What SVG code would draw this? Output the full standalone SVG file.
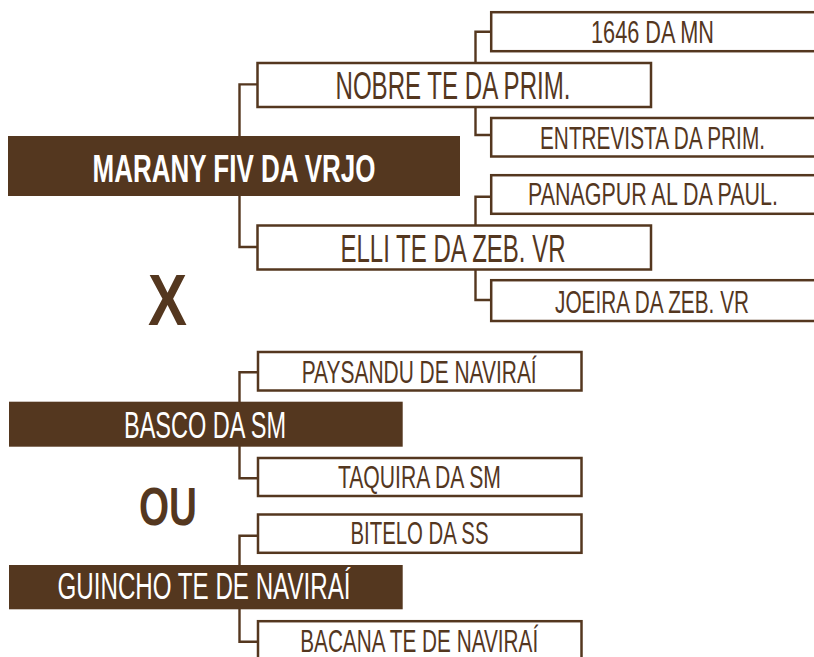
<svg xmlns="http://www.w3.org/2000/svg" width="814" height="657" viewBox="0 0 814 657">
<style>
.box{fill:#ffffff;stroke:#54371f;stroke-width:2.5}
.fill{fill:#54371f}
.conn{fill:none;stroke:#54371f;stroke-width:2.4}
text{font-family:"Liberation Sans Narrow","Liberation Sans",Arial,sans-serif;text-anchor:middle}
.t{fill:#54371f}
.w{fill:#ffffff}
.b{font-weight:bold}
</style>
<rect width="814" height="657" fill="#ffffff"/>
<g id="connectors">
<path class="conn" d="M257,84.4 H239.5 V136 M239.5,196 V247 H257"/>
<path class="conn" d="M491,31.7 H475.5 V63 M475.5,107 V135 H491"/>
<path class="conn" d="M491,196.7 H475.5 V225 M475.5,270 V300 H491"/>
<path class="conn" d="M257,372.3 H239.5 V402 M239.5,446 V478.3 H257"/>
<path class="conn" d="M257,535.7 H239.5 V565 M239.5,609 V641.7 H257"/>
</g>
<g id="n-marany">
<rect class="fill" x="8" y="136" width="452" height="60"/>
<text class="w b" x="234" y="181.7" font-size="39" textLength="283" lengthAdjust="spacingAndGlyphs">MARANY FIV DA VRJO</text>
</g>
<g id="n-nobre">
<rect class="box" x="257.5" y="63" width="393.5" height="44"/>
<text class="t" x="453" y="99" font-size="38" textLength="235" lengthAdjust="spacingAndGlyphs">NOBRE TE DA PRIM.</text>
</g>
<g id="n-elli">
<rect class="box" x="257.5" y="225.5" width="393.5" height="44"/>
<text class="t" x="453" y="261.7" font-size="38" textLength="225" lengthAdjust="spacingAndGlyphs">ELLI TE DA ZEB. VR</text>
</g>
<g id="n-1646">
<rect class="box" x="491.2" y="12.2" width="330" height="39"/>
<text class="t" x="652.5" y="43.3" font-size="31.5" textLength="123" lengthAdjust="spacingAndGlyphs">1646 DA MN</text>
</g>
<g id="n-entrevista">
<rect class="box" x="491.2" y="118" width="330" height="38.5"/>
<text class="t" x="652.5" y="149" font-size="31.5" textLength="225" lengthAdjust="spacingAndGlyphs">ENTREVISTA DA PRIM.</text>
</g>
<g id="n-panagpur">
<rect class="box" x="491.2" y="175.2" width="330" height="38.6"/>
<text class="t" x="653" y="205" font-size="31.5" textLength="250" lengthAdjust="spacingAndGlyphs">PANAGPUR AL DA PAUL.</text>
</g>
<g id="n-joeira">
<rect class="box" x="491.2" y="280.2" width="330" height="40.8"/>
<text class="t" x="652" y="313" font-size="31.5" textLength="194" lengthAdjust="spacingAndGlyphs">JOEIRA DA ZEB. VR</text>
</g>
<g id="n-x">
<text class="t b" x="167.5" y="325" font-size="72.6" textLength="39" lengthAdjust="spacingAndGlyphs">X</text>
</g>
<g id="n-paysandu">
<rect class="box" x="258" y="352" width="323.5" height="38.5"/>
<text class="t" x="419.2" y="383.3" font-size="31.5" textLength="235" lengthAdjust="spacingAndGlyphs">PAYSANDU DE NAVIRAÍ</text>
</g>
<g id="n-basco">
<rect class="fill" x="9" y="401.7" width="393.7" height="45"/>
<text class="w" x="205" y="438.3" font-size="36" textLength="162" lengthAdjust="spacingAndGlyphs">BASCO DA SM</text>
</g>
<g id="n-taquira">
<rect class="box" x="258" y="458" width="323.5" height="38"/>
<text class="t" x="419.4" y="488.3" font-size="31.5" textLength="163" lengthAdjust="spacingAndGlyphs">TAQUIRA DA SM</text>
</g>
<g id="n-ou">
<text class="t b" x="168" y="525" font-size="53" textLength="58" lengthAdjust="spacingAndGlyphs">OU</text>
</g>
<g id="n-bitelo">
<rect class="box" x="258" y="514.5" width="323.5" height="38.3"/>
<text class="t" x="419.5" y="544" font-size="31.5" textLength="138" lengthAdjust="spacingAndGlyphs">BITELO DA SS</text>
</g>
<g id="n-guincho">
<rect class="fill" x="9" y="565" width="393.7" height="44.3"/>
<text class="w" x="204" y="599.3" font-size="36" textLength="293" lengthAdjust="spacingAndGlyphs">GUINCHO TE DE NAVIRAÍ</text>
</g>
<g id="n-bacana">
<rect class="box" x="258" y="621.2" width="323.5" height="50"/>
<text class="t" x="419.2" y="652" font-size="31.5" textLength="238" lengthAdjust="spacingAndGlyphs">BACANA TE DE NAVIRAÍ</text>
</g>
</svg>
